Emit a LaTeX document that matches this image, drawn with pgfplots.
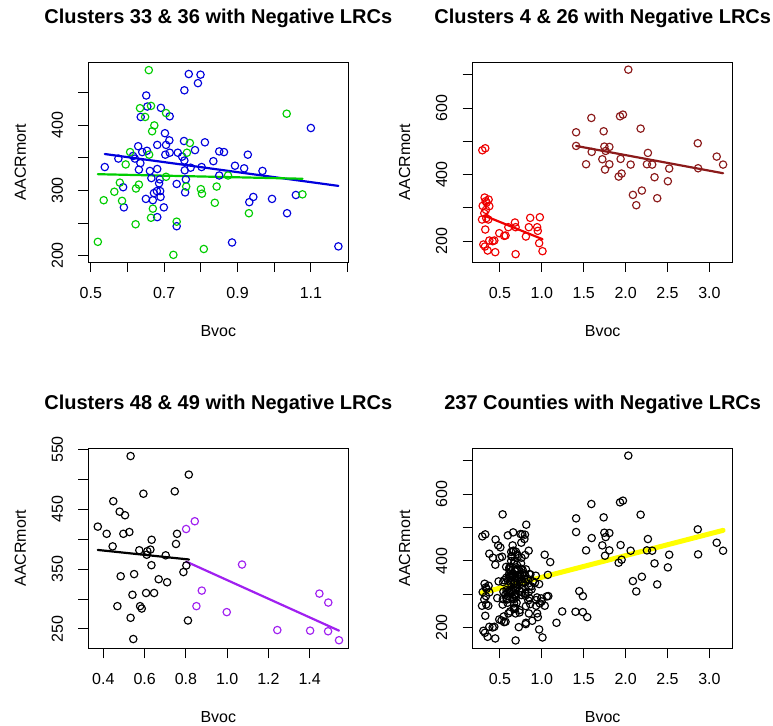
\documentclass[border=0pt]{standalone}
\usepackage{pgfplots}
\pgfplotsset{compat=1.18}
\usepackage{pgfplotstable}
\usepackage{fontspec}
\setmainfont{Liberation Sans}
\definecolor{rgreen}{HTML}{00CD00}
\definecolor{rblue}{HTML}{0000DD}
\definecolor{rbrown}{HTML}{8B1A1A}
\definecolor{rred}{HTML}{EE0000}
\definecolor{rpurple}{HTML}{A020F0}
\definecolor{ryellow}{HTML}{FFFF00}

% Panel 1: clusters 33 & 36
\pgfplotstableread{
x y
0.658 485
0.634 426.5
0.664 430
0.648 413
0.673 400
0.667 391
0.705 419
1.034 418
0.607 359
0.659 355
0.762 358
0.770 373
0.595 340
0.705 321
0.579 312
0.564 298
0.623 303
0.631 309
0.585 284
0.535 285
0.760 306
0.800 302
0.803 295
0.843 306
0.838 281
0.669 272
0.664 258
0.622 248
0.734 252
0.931 265
1.077 294
0.519 221
0.725 201
0.808 210
0.874 323
}\pOneGreen
\pgfplotstableread{
x y
0.767 479
0.799 478
0.792 465
0.755 454
0.651 446
0.654 429
0.691 427
0.636 413
0.715 414
1.100 396
0.702 388
0.714 377
0.754 376
0.811 374
0.681 370
0.705 370
0.629 368
0.784 362
0.850 360
0.863 359
0.928 355
0.653 361
0.640 359
0.703 355
0.715 358
0.737 358
0.615 353
0.620 349
0.635 342
0.749 352
0.755 346
0.575 349
0.538 336
0.834 345
0.772 335
0.756 331
0.802 336
0.893 338
0.918 334
0.968 330
0.631 332
0.661 330
0.681 333
0.665 319
0.688 317
0.759 317
0.734 310
0.850 323
0.588 305
0.686 311
0.689 299
0.672 296
0.680 299
0.757 297
0.690 290
0.650 287
0.669 285
0.590 274
0.699 274
0.943 290
0.932 282
0.994 287
1.059 293
0.681 259
0.734 245
1.035 265
0.885 220
1.175 214
}\pOneBlue
% Panel 2: clusters 4 & 26
\pgfplotstableread{
x y
2.032 715
1.591 570
1.933 575
1.968 580
2.179 538
1.409 527
1.738 530
1.409 486
1.595 468
1.746 484
1.806 483
1.762 471
1.722 446
1.528 431
1.806 431
1.754 415
1.940 447
2.060 430
2.266 465
2.254 431
2.317 430
2.520 418
2.861 494
2.865 419
3.087 454
3.163 430
1.917 394
1.952 403
2.345 392
2.504 380
2.087 339
2.194 352
2.377 329
2.127 308
}\pTwoBrown
\pgfplotstableread{
x y
0.290 473
0.325 479
0.317 331
0.365 325
0.341 316
0.330 320
0.294 306
0.373 305
0.333 294
0.313 284
0.286 265
0.337 269
0.361 265
0.325 235
0.302 190
0.321 184
0.353 172
0.373 202
0.413 200
0.433 202
0.444 167
0.492 224
0.550 216
0.567 217
0.600 242
0.687 242
0.679 256
0.687 161
0.810 214
0.845 242
0.861 270
0.944 242
0.952 231
0.976 272
0.968 194
1.008 170
}\pTwoRed
% Panel 3: clusters 48 & 49
\pgfplotstableread{
x y
0.532 539
0.814 508
0.594 476
0.746 480
0.448 463.5
0.479 446
0.505 440
0.373 421
0.416 409
0.497 409
0.526 412
0.445 388
0.634 399
0.757 409
0.752 392
0.574 381.5
0.613 380
0.628 382.6
0.610 374
0.702 373
0.633 356.5
0.802 356
0.788 345
0.484 338
0.549 341.6
0.668 333
0.709 328
0.541 307
0.607 310
0.646 310
0.468 288
0.578 288
0.586 284
0.532 268.5
0.810 264
0.545 233
}\pThreeBlack
\pgfplotstableread{
x y
0.801 417
0.843 430
1.072 357.6
0.877 314
0.851 288
0.998 278
1.447 309
1.490 294
1.243 248
1.402 247
1.489 246
1.542 231
}\pThreePurple

\pgfplotsset{
  rplot/.style={
    scale only axis, width=260bp, height=200bp,
    axis line style={line width=0.9bp},
    tick align=outside, tick pos=left, major tick length=10bp,
    every tick/.style={black, line width=0.9bp},
    ticklabel style={font=\fontsize{16bp}{19bp}\selectfont},
    ticklabel shift=21bp,
    xticklabel style={anchor=center},
    yticklabel style={rotate=90, anchor=center},
    label style={font=\fontsize{16bp}{19bp}\selectfont},
    xlabel style={at={(axis description cs:0.5,-0.345)}, anchor=center},
    ylabel style={at={(axis description cs:-0.2615,0.5)}, anchor=center},
    title style={at={(axis description cs:0.5,1)}, anchor=base, yshift=33bp,
      font=\bfseries\fontsize{20bp}{24bp}\selectfont},
    xlabel={Bvoc}, ylabel={AACRmort},
  },
  pts/.style={only marks, mark=o, mark size=3.7bp, mark options={line width=1.15bp, #1}, color=#1},
  fit/.style={no marks, line width=2.2bp, line cap=round, color=#1},
}

\begin{document}
\begin{tikzpicture}
\useasboundingbox (0,0) rectangle (773bp,726bp);

% Panel 1
\begin{axis}[rplot, at={(88.3bp,464bp)}, anchor=south west,
  title={Clusters 33 \& 36 with Negative LRCs},
  xmin=0.493, xmax=1.202, ymin=190, ymax=497.5,
  xtick={0.5,0.6,0.7,0.8,0.9,1.0,1.1,1.2},
  xticklabels={0.5,,0.7,,0.9,,1.1,},
  ytick={200,250,300,350,400,450},
  yticklabels={200,,300,,400,}]
\addplot[pts=rblue] table {\pOneBlue};
\addplot[pts=rgreen] table {\pOneGreen};
\addplot[fit=rblue] coordinates {(0.538,356) (1.175,307)};
\addplot[fit=rgreen] coordinates {(0.519,325) (1.077,318)};
\end{axis}

% Panel 2
\begin{axis}[rplot, at={(472.7bp,464bp)}, anchor=south west,
  title={Clusters 4 \& 26 with Negative LRCs},
  xmin=0.175, xmax=3.278, ymin=137.5, ymax=738,
  xtick={0.5,1.0,1.5,2.0,2.5,3.0},
  xticklabels={0.5,1.0,1.5,2.0,2.5,3.0},
  ytick={200,300,400,500,600,700},
  yticklabels={200,,400,,600,}]
\addplot[pts=rbrown] table {\pTwoBrown};
\addplot[pts=rred] table {\pTwoRed};
\addplot[fit=rbrown] coordinates {(1.409,486) (3.163,404)};
\addplot[fit=rred] coordinates {(0.31,277) (1.008,206)};
\end{axis}

% Panel 3
\begin{axis}[rplot, at={(88.3bp,77.7bp)}, anchor=south west,
  title={Clusters 48 \& 49 with Negative LRCs},
  xmin=0.327, xmax=1.587, ymin=217.5, ymax=552,
  xtick={0.4,0.6,0.8,1.0,1.2,1.4},
  xticklabels={0.4,0.6,0.8,1.0,1.2,1.4},
  ytick={250,300,350,400,450,500,550},
  yticklabels={250,,350,,450,,550}]
\addplot[pts=black] table {\pThreeBlack};
\addplot[pts=rpurple] table {\pThreePurple};
\addplot[fit=black] coordinates {(0.373,382) (0.815,366)};
\addplot[fit=rpurple] coordinates {(0.801,362.6) (1.542,247)};
\end{axis}

% Panel 4
\begin{axis}[rplot, at={(472.7bp,77.7bp)}, anchor=south west,
  title={237 Counties with Negative LRCs},
  xmin=0.175, xmax=3.278, ymin=137.5, ymax=737,
  xtick={0.5,1.0,1.5,2.0,2.5,3.0},
  xticklabels={0.5,1.0,1.5,2.0,2.5,3.0},
  ytick={200,300,400,500,600,700},
  yticklabels={200,,400,,600,}]
\addplot[pts=black] table {\pOneBlue};
\addplot[pts=black] table {\pOneGreen};
\addplot[pts=black] table {\pTwoBrown};
\addplot[pts=black] table {\pTwoRed};
\addplot[pts=black] table {\pThreeBlack};
\addplot[pts=black] table {\pThreePurple};
\addplot[no marks, color=ryellow, line width=5bp, line cap=round] coordinates {(0.286,304) (3.163,491)};
\end{axis}
\end{tikzpicture}
\end{document}
